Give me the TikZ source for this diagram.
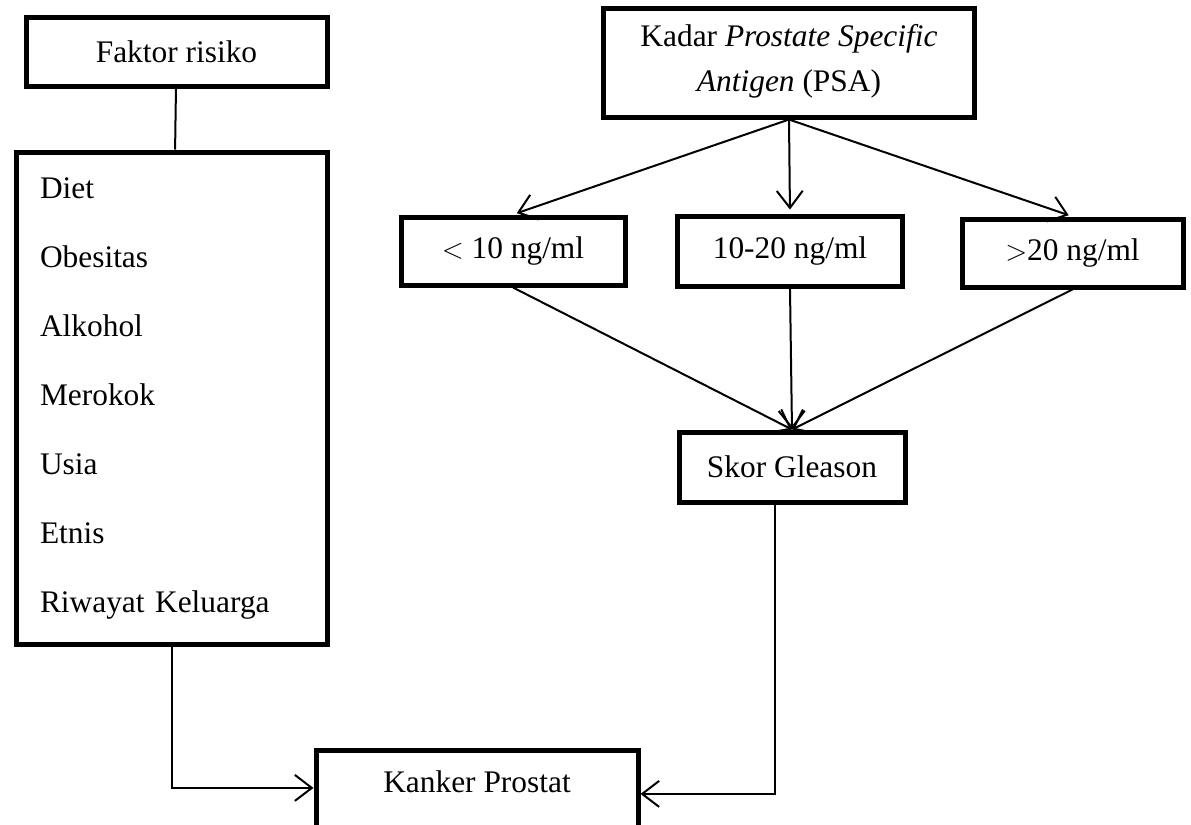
\documentclass[tikz,border=0pt]{standalone}
\usepackage{fontspec}
\setmainfont{Liberation Serif}
\usetikzlibrary{arrows.meta}
\usetikzlibrary{positioning}
\usetikzlibrary{calc}

\begin{document}
\begin{tikzpicture}[->,>={Straight Barb[length=8.5pt,width=13pt]},line width=1pt,
			x=0.5pt,y=-0.5pt,font=\fontsize{15.7}{22.5}\selectfont]
			\tikzstyle{box}=[draw,line width=2.5pt,rectangle,align=center]
			
			\useasboundingbox (0,0) rectangle (1191,825);
			
			\node[box,minimum width=150.5pt,minimum height=34.5pt] (faktor) at (176.5,51.5) {Faktor risiko};
			\node[box,minimum width=155.5pt,minimum height=246pt,text width=131.5pt,
			inner xsep=12pt,align=left,font=\fontsize{15.7}{34.5}\selectfont] (risiko) at (171.5,398)
			{Diet\\Obesitas\\Alkohol\\Merokok\\Usia\\Etnis\\Riwayat Keluarga};
			
			\node[box,minimum width=185.5pt,minimum height=54.5pt,text depth=5pt] (psa) at (789,62.5)
			{Kadar \textit{Prostate Specific}\\\textit{Antigen} (PSA)};
			\node[box,minimum width=112pt,minimum height=34pt]   (kurang) at (513,251) {$<$ 10 ng/ml};
			\node[box,minimum width=112.5pt,minimum height=35pt] (sedang) at (790,251) {10-20 ng/ml};
			\node[box,minimum width=110.5pt,minimum height=34pt] (lebih) at (1072.5,253) {$>$20 ng/ml};
			\node[box,minimum width=113pt,minimum height=35pt]   (skor) at (792,467) {Skor Gleason};
			\node[box,minimum width=161pt,inner ysep=0pt,text height=21pt,text depth=60pt,anchor=north]
			(kanker) at (477,748) {Kanker Prostat};
			
			\path (faktor) edge[-] (risiko)
			(psa.south) edge[shorten >=2pt] (kurang.north)
			(psa.south) edge[shorten >=2pt] (sedang.north)
			(psa.south) edge[shorten >=2pt] (lebih.north)
			(kurang.south) edge (skor.north)
			(sedang.south) edge (skor.north)
			(lebih.south) edge (skor.north);
			
			\draw (risiko.south) |- (kanker.west |- kanker.mid);
			\draw ([xshift=-8.5pt]skor.south) |- ([yshift=-3pt]kanker.east |- kanker.mid);
\end{tikzpicture}
\end{document}
